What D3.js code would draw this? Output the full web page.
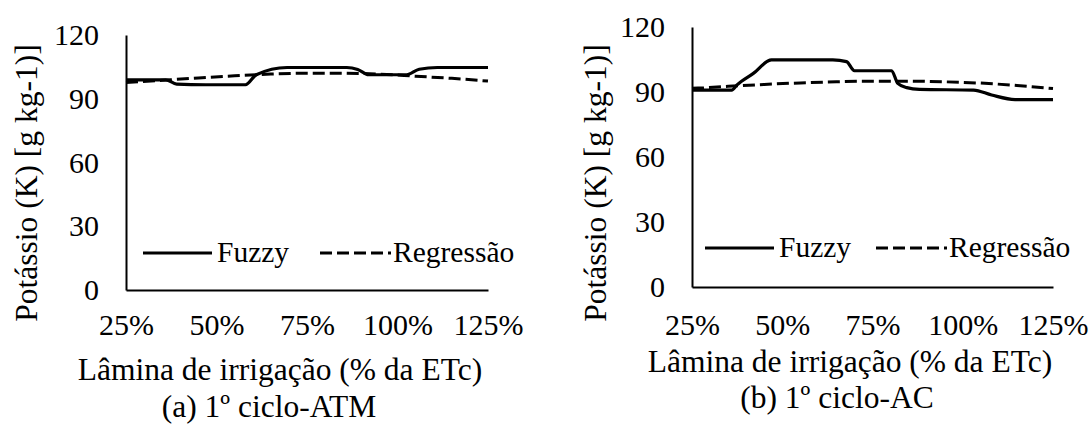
<!DOCTYPE html>
<html lang="pt">
<head>
  <meta charset="UTF-8">
  <title>Potássio - Fuzzy x Regressão</title>
  <style>
    body { margin: 0; background: #fff; }
  </style>
</head>
<body>
<svg width=1090 height=428 id="viz"></svg>
<script src="https://cdn.jsdelivr.net/npm/d3@7"></script>
<script>
/* global d3 */

const FONT = "'Liberation Serif', 'DejaVu Serif', serif";

// x ticks and y ticks shared by both panels
const xTicks = [25, 50, 75, 100, 125];
const yTicks = [0, 30, 60, 90, 120];

// (a) 1º ciclo-ATM
const atmFuzzyX = [25, 36, 39, 47, 58, 61, 69.5, 86, 89, 92, 102.5, 106, 111, 125];
const atmFuzzyY = [98.9, 98.9, 96.9, 96.6, 96.6, 101.3, 104.7, 104.7, 103.8, 101.3, 101.3, 103.9, 104.7, 104.7];
const atmRegX = [25, 35, 45, 55, 65, 75, 85, 95, 105, 115, 125];
const atmRegY = [97.6, 98.7, 99.8, 100.8, 101.6, 102.0, 102.0, 101.6, 100.6, 99.6, 98.3];

// (b) 1º ciclo-AC
const acFuzzyX = [25, 36, 37.4, 42, 47, 64, 67.8, 70, 80.3, 82, 84.5, 88, 103, 108, 114.5, 125];
const acFuzzyY = [90.9, 90.9, 93.2, 98.6, 104.8, 104.8, 104, 99.8, 99.8, 94, 92, 91.2, 90.9, 88.6, 86.5, 86.5];
const acRegX = [25, 35, 45, 55, 65, 75, 85, 95, 105, 115, 125];
const acRegY = [91.7, 92.6, 93.5, 94.2, 94.7, 95.0, 95.0, 94.7, 94.1, 93.0, 91.6];

const zip = (xs, ys) => xs.map((x, i) => [x, ys[i]]);

let svg = d3.select("#viz");
svg.append("rect").attr("width", 1090).attr("height", 428).attr("fill", "#fff");

function panel(cfg) {
  let x = d3.scaleLinear().domain([25, 125]).range([cfg.left, cfg.right]);
  let y = d3.scaleLinear().domain([0, 120]).range([cfg.bottom, cfg.top]);
  let g = svg.append("g");

  // y axis
  let ya = g.append("g")
    .attr("transform", "translate(" + cfg.left + ",0)")
    .call(d3.axisLeft(y).tickValues(yTicks).tickSize(0).tickPadding(27));
  ya.select(".domain").attr("stroke", "#000").attr("stroke-width", 2);
  ya.selectAll("text").style("font-family", FONT).style("font-size", "30px").attr("fill", "#000");

  // x axis
  let xa = g.append("g")
    .attr("transform", "translate(0," + cfg.bottom + ")")
    .call(d3.axisBottom(x).tickValues(xTicks).tickSize(0).tickFormat(d => d + "%"));
  xa.select(".domain").attr("stroke", "#000").attr("stroke-width", 2);
  xa.selectAll("text").style("font-family", FONT).style("font-size", "30px").attr("fill", "#000")
    .attr("y", cfg.xLabelY).attr("dy", 0);

  let line = d3.line().x(d => x(d[0])).y(d => y(d[1])).curve(d3.curveMonotoneX);

  g.append("path")
    .attr("d", line(zip(cfg.regX, cfg.regY)))
    .attr("fill", "none").attr("stroke", "#000").attr("stroke-width", 3)
    .attr("stroke-dasharray", "12,5");

  g.append("path")
    .attr("d", line(zip(cfg.fuzX, cfg.fuzY)))
    .attr("fill", "none").attr("stroke", "#000").attr("stroke-width", 3.2);

  // legend
  let lg = g.append("g").attr("transform", "translate(0," + cfg.legY + ")");
  lg.append("line").attr("x1", cfg.legX).attr("x2", cfg.legX + 69)
    .attr("stroke", "#000").attr("stroke-width", 3.2);
  lg.append("text").attr("x", cfg.legX + 74).attr("y", 9)
    .style("font-family", FONT).style("font-size", "29.5px").text("Fuzzy");
  lg.append("line").attr("x1", cfg.legX2).attr("x2", cfg.legX2 + 71)
    .attr("stroke", "#000").attr("stroke-width", 3).attr("stroke-dasharray", "12,5");
  lg.append("text").attr("x", cfg.legX2 + 73).attr("y", 9)
    .style("font-family", FONT).style("font-size", "29.5px").text("Regressão");

  // titles
  g.append("text")
    .attr("transform", "translate(" + cfg.yTitleX + "," + cfg.yTitleY + ") rotate(-90)")
    .attr("text-anchor", "middle")
    .style("font-family", FONT).style("font-size", "31.5px")
    .text("Potássio (K) [g kg-1)]");
  g.append("text")
    .attr("x", cfg.xTitleX).attr("y", cfg.xTitleBase)
    .attr("text-anchor", "middle")
    .style("font-family", FONT).style("font-size", "31.5px")
    .text("Lâmina de irrigação (% da ETc)");
  g.append("text")
    .attr("x", cfg.capX).attr("y", cfg.capBase)
    .attr("text-anchor", "middle")
    .style("font-family", FONT).style("font-size", "31.5px")
    .text(cfg.caption);
}

panel({
  left: 126, right: 488, top: 35, bottom: 290, xLabelY: 45,
  fuzX: atmFuzzyX, fuzY: atmFuzzyY, regX: atmRegX, regY: atmRegY,
  legY: 253, legX: 143, legX2: 320,
  yTitleX: 37, yTitleY: 183,
  xTitleX: 280, xTitleBase: 380, capX: 269, capBase: 417,
  caption: "(a) 1º ciclo-ATM"
});

panel({
  left: 692, right: 1053, top: 27, bottom: 287, xLabelY: 48,
  fuzX: acFuzzyX, fuzY: acFuzzyY, regX: acRegX, regY: acRegY,
  legY: 248, legX: 705, legX2: 876,
  yTitleX: 606, yTitleY: 183,
  xTitleX: 850, xTitleBase: 372, capX: 837, capBase: 408,
  caption: "(b) 1º ciclo-AC"
});
</script>
</body>
</html>
